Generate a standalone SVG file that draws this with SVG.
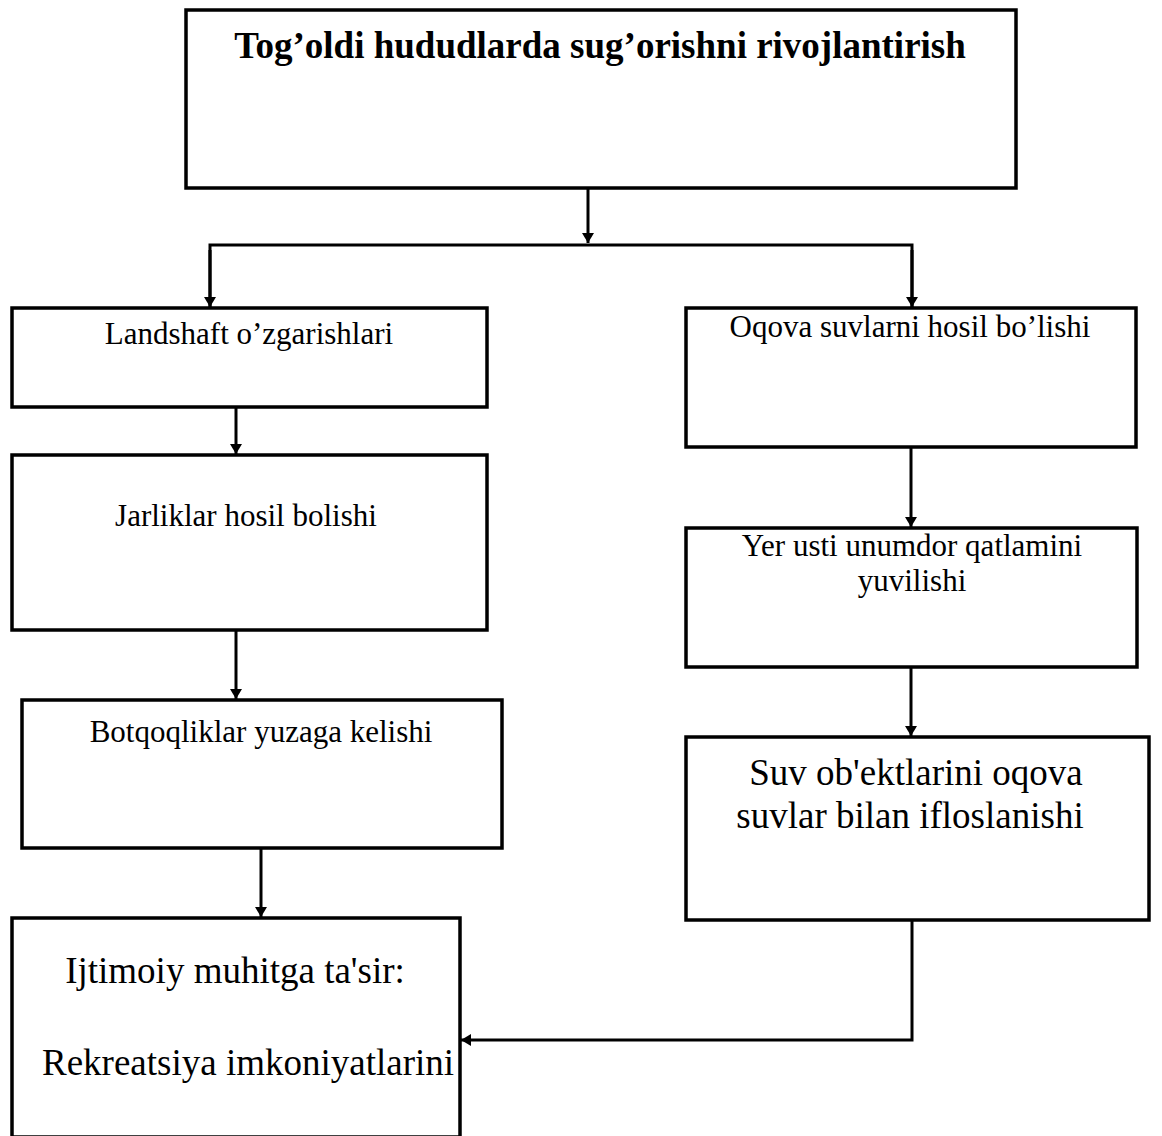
<svg xmlns="http://www.w3.org/2000/svg" width="1162" height="1136" viewBox="0 0 1162 1136">
<style>
.box{fill:#fff;stroke:#000;stroke-width:3.5}
.t{font-family:"Liberation Serif","Times New Roman",serif;fill:#000;text-anchor:middle}
.s{font-size:31px}
.l{font-size:37px}
.b{font-size:37px;font-weight:bold}
.c{fill:none;stroke:#000;stroke-width:3}
</style>
<defs>
<marker id="ah" viewBox="0 0 10 16" refX="10" refY="8" markerWidth="10" markerHeight="16" markerUnits="userSpaceOnUse" orient="auto">
<path d="M0,2 L10,8 L0,14 z" fill="#000"/>
</marker>
</defs>
<rect width="1162" height="1136" fill="#fff"/>
<g id="connectors">
<path class="c" d="M588,188 V243" marker-end="url(#ah)"/>
<path class="c" d="M210,308 V245 H912 V308" />
<path class="c" d="M210,250 V307" marker-end="url(#ah)"/>
<path class="c" d="M912,250 V307" marker-end="url(#ah)"/>
<path class="c" d="M236,407 V454" marker-end="url(#ah)"/>
<path class="c" d="M236,630 V699" marker-end="url(#ah)"/>
<path class="c" d="M261,848 V917" marker-end="url(#ah)"/>
<path class="c" d="M911,447 V527" marker-end="url(#ah)"/>
<path class="c" d="M911,667 V736" marker-end="url(#ah)"/>
<path class="c" d="M912,920 V1040 H461" marker-end="url(#ah)"/>
</g>
<g id="n-top">
<rect class="box" x="186" y="10" width="830" height="178"/>
<text class="t b" x="600" y="58">Tog’oldi hududlarda sug’orishni rivojlantirish</text>
</g>
<g id="n-landshaft">
<rect class="box" x="12" y="308" width="475" height="99"/>
<text class="t s" x="249" y="344">Landshaft o’zgarishlari</text>
</g>
<g id="n-jarliklar">
<rect class="box" x="12" y="455" width="475" height="175"/>
<text class="t s" x="246" y="526">Jarliklar hosil bolishi</text>
</g>
<g id="n-botqoq">
<rect class="box" x="22" y="700" width="480" height="148"/>
<text class="t s" x="261" y="742">Botqoqliklar yuzaga kelishi</text>
</g>
<g id="n-ijtimoiy">
<rect class="box" x="12" y="918" width="448" height="219"/>
<text class="t l" x="235" y="983">Ijtimoiy muhitga ta'sir:</text>
<text class="t l" x="248" y="1075">Rekreatsiya imkoniyatlarini</text>
</g>
<g id="n-oqova">
<rect class="box" x="686" y="308" width="450" height="139"/>
<text class="t s" x="910" y="337">Oqova suvlarni hosil bo’lishi</text>
</g>
<g id="n-yer">
<rect class="box" x="686" y="528" width="451" height="139"/>
<text class="t s" x="912" y="556">Yer usti unumdor qatlamini</text>
<text class="t s" x="912" y="591">yuvilishi</text>
</g>
<g id="n-suv">
<rect class="box" x="686" y="737" width="463" height="183"/>
<text class="t l" x="916" y="785">Suv ob'ektlarini oqova</text>
<text class="t l" x="910" y="828">suvlar bilan ifloslanishi</text>
</g>
</svg>
